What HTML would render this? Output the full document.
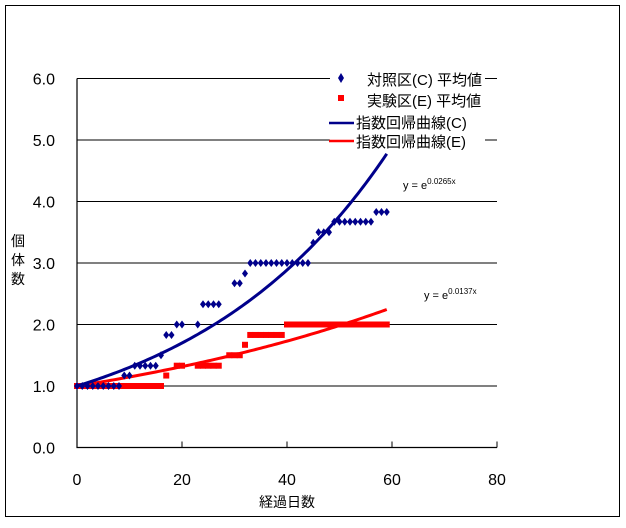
<!DOCTYPE html>
<html><head><meta charset="utf-8"><style>
body{margin:0;background:#fff;}
svg text{font-family:"Liberation Sans","Noto Sans CJK JP",sans-serif;}
</style></head><body>
<svg width="626" height="523" viewBox="0 0 626 523">
<rect x="5.5" y="5.5" width="614" height="511" fill="#fff" stroke="#000"/>
<g id="grid"></g>
<g id="axes"></g>
<g id="series"></g>
<g>
<rect x="330" y="66" width="155" height="86" fill="#fff"/>
<path d="M341,73 l3,5 l-3,5 l-3,-5z" fill="#00008b"/>
<text x="367" y="85" font-size="15">対照区(C) 平均値</text>
<rect x="338" y="95" width="6" height="6" fill="#f00"/>
<text x="367" y="106" font-size="15">実験区(E) 平均値</text>
<line x1="329" y1="123" x2="354" y2="123" stroke="#00008b" stroke-width="2.5"/>
<text x="356" y="128" font-size="15">指数回帰曲線(C)</text>
<line x1="329" y1="141" x2="354" y2="141" stroke="#f00" stroke-width="2.5"/>
<text x="356" y="147" font-size="15">指数回帰曲線(E)</text>
</g>
<text x="403" y="189" font-size="11">y = e<tspan font-size="8" dy="-5">0.0265x</tspan></text>
<text x="424" y="299" font-size="11">y = e<tspan font-size="8" dy="-5">0.0137x</tspan></text>
<g font-size="14">
<text x="11" y="246">個</text><text x="11" y="265">体</text><text x="11" y="284">数</text>
</g>
<text x="287" y="507" font-size="14" text-anchor="middle">経過日数</text>
</svg>
<script>
const NS='http://www.w3.org/2000/svg';
const xTicks=[0,20,40,60,80];
const yTicks=[0.0,1.0,2.0,3.0,4.0,5.0,6.0];
const daysC=[0,1,2,3,4,5,6,7,8,9,10,11,12,13,14,15,16,17,18,19,20,23,24,25,26,27,30,31,32,33,34,35,36,37,38,39,40,41,42,43,44,45,46,47,48,49,50,51,52,53,54,55,56,57,58,59];
const valuesC=[1,1,1,1,1,1,1,1,1,1.17,1.17,1.33,1.33,1.33,1.33,1.33,1.5,1.83,1.83,2,2,2,2.33,2.33,2.33,2.33,2.67,2.67,2.83,3,3,3,3,3,3,3,3,3,3,3,3,3.33,3.5,3.5,3.5,3.67,3.67,3.67,3.67,3.67,3.67,3.67,3.67,3.83,3.83,3.83];
const daysE=[0,1,2,3,4,5,6,7,8,9,10,11,12,13,14,15,16,17,19,20,23,24,25,26,27,29,30,31,32,33,34,35,36,37,38,39,40,41,42,43,44,45,46,47,48,49,50,51,52,53,54,55,56,57,58,59];
const valuesE=[1,1,1,1,1,1,1,1,1,1,1,1,1,1,1,1,1,1.17,1.33,1.33,1.33,1.33,1.33,1.33,1.33,1.5,1.5,1.5,1.67,1.83,1.83,1.83,1.83,1.83,1.83,1.83,2,2,2,2,2,2,2,2,2,2,2,2,2,2,2,2,2,2,2,2];
const coefC=0.0265, coefE=0.0137, fitEnd=59;
const X=v=>77+v*(420/80);
const Y=v=>447.5-v*61.5;
function el(t,a,p){const e=document.createElementNS(NS,t);for(const k in a)e.setAttribute(k,a[k]);p.appendChild(e);return e;}
const grid=document.getElementById('grid'),axes=document.getElementById('axes'),ser=document.getElementById('series');
yTicks.forEach(v=>{
  if(v>0){const g=el('line',{x1:X(0),x2:X(80),y1:Y(v),y2:Y(v),stroke:'#000','stroke-width':1},grid);
  
  }
  const t=el('text',{x:55,y:Y(v)+6,'font-size':16,'text-anchor':'end'},axes);t.textContent=v.toFixed(1);
  
  
});
xTicks.forEach(v=>{
  const l=el('line',{x1:X(v),x2:X(v),y1:Y(0),y2:Y(0)-6,stroke:'#000'},axes);
  
  
  const t=el('text',{x:X(v),y:485,'font-size':16,'text-anchor':'middle'},axes);t.textContent=v;
  
  
});
const ax=el('path',{d:`M${X(0)},${Y(6)}V${Y(0)}H${X(80)}`,fill:'none',stroke:'#000','stroke-width':1.2},axes);


function fit(c,color,name){let pts=[];for(let d=0;d<=fitEnd;d+=0.5)pts.push(X(d)+','+Y(Math.exp(c*d)));
  const p=el('polyline',{points:pts.join(' '),fill:'none',stroke:color,'stroke-width':3},ser);
  
  }
daysE.forEach((d,i)=>{const r=el('rect',{x:X(d)-3,y:Y(valuesE[i])-3,width:6,height:6,fill:'#f00'},ser);
  
  });
fit(coefE,'#f00','regression-line-e');
fit(coefC,'#00008b','regression-line-c');
daysC.forEach((d,i)=>{const x=X(d),y=Y(valuesC[i]);
  const p=el('path',{d:`M${x},${y-4}l3,4l-3,4l-3,-4z`,fill:'#00008b'},ser);
  
  });
</script>
</body></html>
